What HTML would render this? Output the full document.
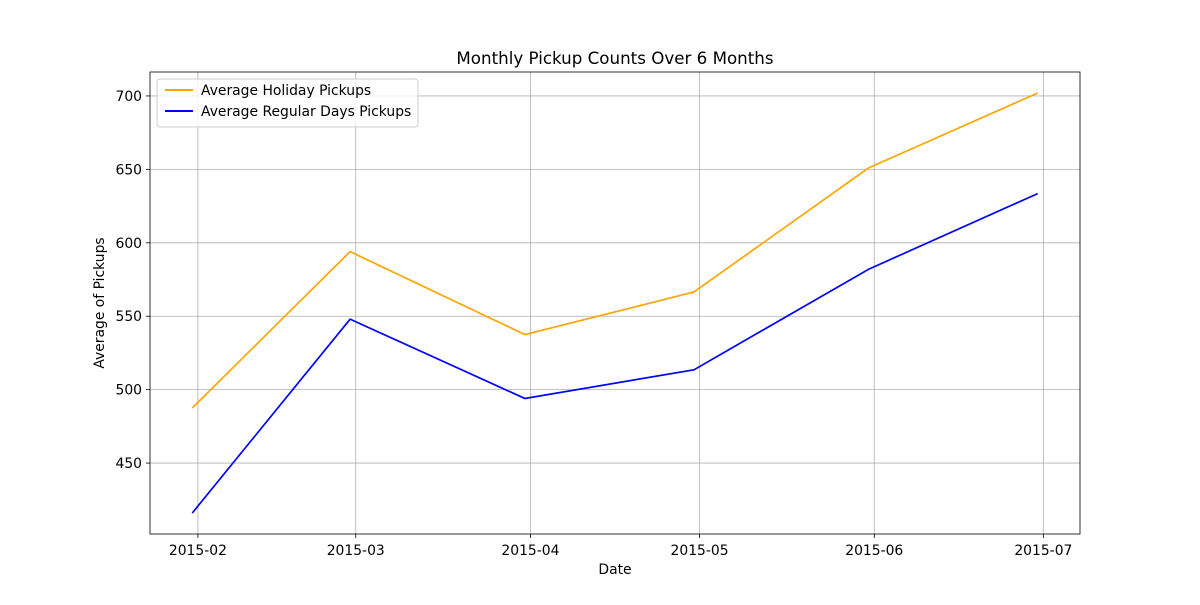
<!DOCTYPE html>
<html><head><meta charset="utf-8">
<style>
body{margin:0;background:#fff;font-family:"Liberation Sans","DejaVu Sans",sans-serif;}
svg text{font-family:"DejaVu Sans","Liberation Sans",sans-serif;}
</style></head>
<body>
<svg id="chart" width="1200" height="600" xmlns="http://www.w3.org/2000/svg">
<rect width="1200" height="600" fill="#fff"/>
<g id="grid"></g>
<g id="lines"></g>
<g id="axes"></g>
<text x="615" y="64" text-anchor="middle" font-size="16.7">Monthly Pickup Counts Over 6 Months</text>
<text x="615" y="574" text-anchor="middle" font-size="13.9">Date</text>
<text x="104" y="303" text-anchor="middle" font-size="13.9" transform="rotate(-90 104 303)">Average of Pickups</text>
<g>
<rect x="157" y="79" width="261" height="48" rx="3" fill="#fff" fill-opacity="0.8" stroke="#ccc"/>
<line x1="165" y1="90" x2="193" y2="90" stroke="orange" stroke-width="2"/>
<text x="201" y="95" font-size="13.9">Average Holiday Pickups</text>
<line x1="165" y1="111" x2="193" y2="111" stroke="blue" stroke-width="2"/>
<text x="201" y="116" font-size="13.9">Average Regular Days Pickups</text>
</g>
</svg>
<script>
const dates = ["2015-01-31","2015-02-28","2015-03-31","2015-04-30","2015-05-31","2015-06-30"];
const holiday = [487.5, 594, 537.5, 566.5, 651, 702];
const regular = [416, 548, 494, 513.5, 582, 633.5];
const xTicks = ["2015-02","2015-03","2015-04","2015-05","2015-06","2015-07"];
const yTicks = [450, 500, 550, 600, 650, 700];

const L=150,R=1080,T=72,B=534;
const ns="http://www.w3.org/2000/svg";
const day=s=>Date.parse(s)/864e5;
const dmin=day(dates[0]), dmax=day(dates[dates.length-1]);
const xm=(dmax-dmin)*0.05;
const all=holiday.concat(regular);
const vmin=Math.min(...all), vmax=Math.max(...all), ym=(vmax-vmin)*0.05;
const X=d=>L+(d-(dmin-xm))/((dmax+xm)-(dmin-xm))*(R-L);
const Y=v=>B-(v-(vmin-ym))/((vmax+ym)-(vmin-ym))*(B-T);
function mk(tag,attrs,parent){const e=document.createElementNS(ns,tag);for(const k in attrs)e.setAttribute(k,attrs[k]);document.getElementById(parent).appendChild(e);return e;}
xTicks.forEach(t=>{
  const x=X(day(t+"-01"));
  const g=mk("line",{x1:x,x2:x,y1:T,y2:B,stroke:"#b0b0b0","stroke-width":0.8},"grid");
  
  
  mk("line",{x1:x,x2:x,y1:B,y2:B+4,stroke:"#000","stroke-width":0.8},"axes");
  const tx=mk("text",{x:x,y:B+21,"text-anchor":"middle","font-size":13.9},"axes");
  tx.textContent=t;
  
  
});
yTicks.forEach(t=>{
  const y=Y(t);
  const g=mk("line",{x1:L,x2:R,y1:y,y2:y,stroke:"#b0b0b0","stroke-width":0.8},"grid");
  
  
  mk("line",{x1:L-4,x2:L,y1:y,y2:y,stroke:"#000","stroke-width":0.8},"axes");
  const tx=mk("text",{x:L-8,y:y+5,"text-anchor":"end","font-size":13.9},"axes");
  tx.textContent=t;
  
  
});
const frame=mk("rect",{x:L,y:T,width:R-L,height:B-T,fill:"none",stroke:"#000","stroke-width":0.8},"axes");


function line(vals,color,name){
  const pts=vals.map((v,i)=>X(day(dates[i]))+","+Y(v)).join(" ");
  const p=mk("polyline",{points:pts,fill:"none",stroke:color,"stroke-width":1.7},"lines");
  
  
}
line(holiday,"orange","holiday-line");
line(regular,"blue","regular-line");
</script>
</body></html>
